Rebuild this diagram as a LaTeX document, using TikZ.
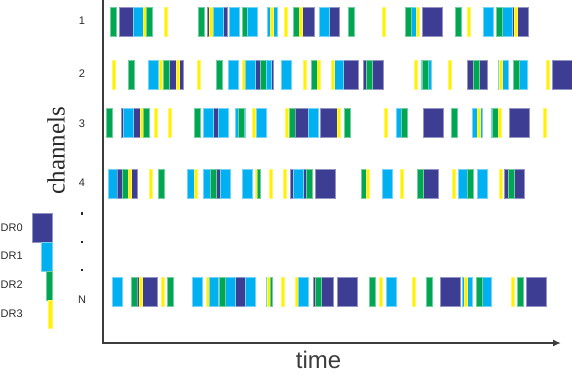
\documentclass[tikz,border=0pt]{standalone}
\usepackage{fontspec}
\setmainfont{Liberation Serif}
\setsansfont{Liberation Sans}
\usetikzlibrary{arrows.meta}
\definecolor{cDB}{HTML}{3D3D94}
\definecolor{cCY}{HTML}{00B0F0}
\definecolor{cGR}{HTML}{00A651}
\definecolor{cYE}{HTML}{FFF200}
\definecolor{cAX}{HTML}{3C3C3C}
\definecolor{cTX}{HTML}{2A2A2A}
\tikzset{
  db/.style={fill=cDB,draw=cDB!55!white,line width=0.5pt},
  cy/.style={fill=cCY,draw=cCY!55!white,line width=0.5pt},
  gr/.style={fill=cGR,draw=cGR!55!white,line width=0.4pt},
  ye/.style={fill=cYE,draw=cYE!60!white,line width=0.3pt},
  lbl/.style={font=\sffamily\fontsize{11}{12}\selectfont,inner sep=0pt,text=cTX},
  axis/.style={draw=cAX,line width=2pt}
}
\newcommand\bx[3]{\filldraw[#1] (#2,\ry) rectangle ++(#3,29);}
\newcommand\B[1]{\bx{db}{#1}{20}}
\newcommand\C[1]{\bx{cy}{#1}{10.5}}
\newcommand\G[1]{\bx{gr}{#1}{5.7}}
\newcommand\Y[1]{\bx{ye}{#1}{3.2}}
\begin{document}
\begin{tikzpicture}[x=1pt,y=-1pt]
\useasboundingbox (0,0) rectangle (572,373);
% row 1
\def\ry{7}
\G{110} \B{119} \C{133} \Y{143} \G{146} \Y{164} \G{198}
\B{207} \Y{209.5} \C{213} \C{229} \G{242} \C{247} \C{267} \Y{270} \Y{284}
\B{294} \G{293} \Y{299} \B{319} \C{319} \G{348} \Y{382}
\C{407} \G{405} \Y{416} \B{422} \G{455} \Y{467} \C{483}
\B{508} \C{502} \G{496} \Y{514}
% row 2
\def\ry{60}
\Y{112} \G{128} \C{148} \B{163} \Y{159} \G{163} \Y{176} \Y{197} \G{216} \C{228}
\B{253} \Y{242} \C{245} \G{260} \bx{cy}{266}{5} \C{281} \Y{303} \G{311} \Y{317}
\B{338} \C{333} \Y{331} \B{363} \G{366} \Y{414} \C{421} \G{422} \Y{448}
\B{467} \G{473} \C{498} \Y{499} \C{517} \G{513} \Y{546} \B{552}
% row 3
\def\ry{108}
\G{106} \B{121} \C{123} \Y{140} \G{143} \Y{154} \Y{168} \G{194}
\B{208} \C{203} \C{218} \C{235} \G{238} \Y{252} \C{256}
\Y{285} \G{289} \B{295} \C{308} \B{320} \Y{337} \G{344} \Y{384}
\C{396} \G{401} \B{423} \G{451} \C{472} \Y{477} \C{491} \G{492} \Y{498}
\B{509} \Y{543}
% row 4
\def\ry{169}
\C{108} \B{117} \G{122} \Y{128} \Y{149} \G{158} \bx{cy}{187}{7} \Y{194}
\B{208} \bx{cy}{203}{7} \G{210} \C{220} \C{242} \Y{255} \bx{gr}{257}{3} \Y{269} \Y{283}
\bx{db}{290}{22} \C{293} \G{306} \B{315} \G{361} \Y{366} \C{382} \Y{400}
\B{418} \G{417} \Y{452} \C{458} \G{467} \C{477} \Y{499} \B{504} \G{508}
% row N
\def\ry{277}
\C{112} \G{131} \B{137} \Y{139} \Y{161} \G{167} \C{192} \Y{206} \bx{cy}{209}{9}
\B{225} \C{225} \G{219} \C{245} \bx{cy}{266}{6} \Y{267} \bx{gr}{270}{2}
\Y{281} \Y{295} \C{298} \B{313} \G{315} \B{337} \G{369} \Y{379} \C{386}
\Y{412} \G{426} \B{440} \C{462} \Y{464} \bx{cy}{482}{9} \G{476} \Y{511} \G{517} \B{526}
% legend
\filldraw[db] (32,213) rectangle (52,242);
\filldraw[cy] (41.5,242) rectangle (52,271);
\filldraw[gr] (46.3,271) rectangle (52,300);
\filldraw[ye] (48.5,300) rectangle (51.7,328);
\node[lbl,anchor=west] (l0) at (0.5,228) {DR0};
\node[lbl,anchor=west] (l1) at (0.5,256) {DR1};
\node[lbl,anchor=west] (l2) at (0.5,285) {DR2};
\node[lbl,anchor=west] (l3) at (0.5,314) {DR3};
% channel labels
\node[lbl] (n1) at (82,21) {1};
\node[lbl] (n2) at (82,74) {2};
\node[lbl] (n3) at (82,123.5) {3};
\node[lbl] (n4) at (82,183) {4};
\node[lbl] (nN) at (82,300) {N};
\fill[cTX] (80.5,212) rectangle ++(2.6,2.6);
\fill[cTX] (80.5,240.5) rectangle ++(2.6,2.6);
\fill[cTX] (80.5,268.8) rectangle ++(2.6,2.6);
\node[rotate=90,font=\fontsize{25}{27}\selectfont,inner sep=0pt,text=cTX] (ch) at (56,150.5) {channels};
\node[font=\sffamily\fontsize{24}{26}\selectfont,inner sep=0pt,text=cAX,anchor=base] (tm) at (318.5,368.5) {time};
% axes
\coordinate (top) at (103,0);
\coordinate (org) at (103,343);
\coordinate (end) at (561,343);
\draw[axis,-{Latex[length=8pt,width=7pt]}] (top) -- (org) -- (end);
\end{tikzpicture}
\end{document}
